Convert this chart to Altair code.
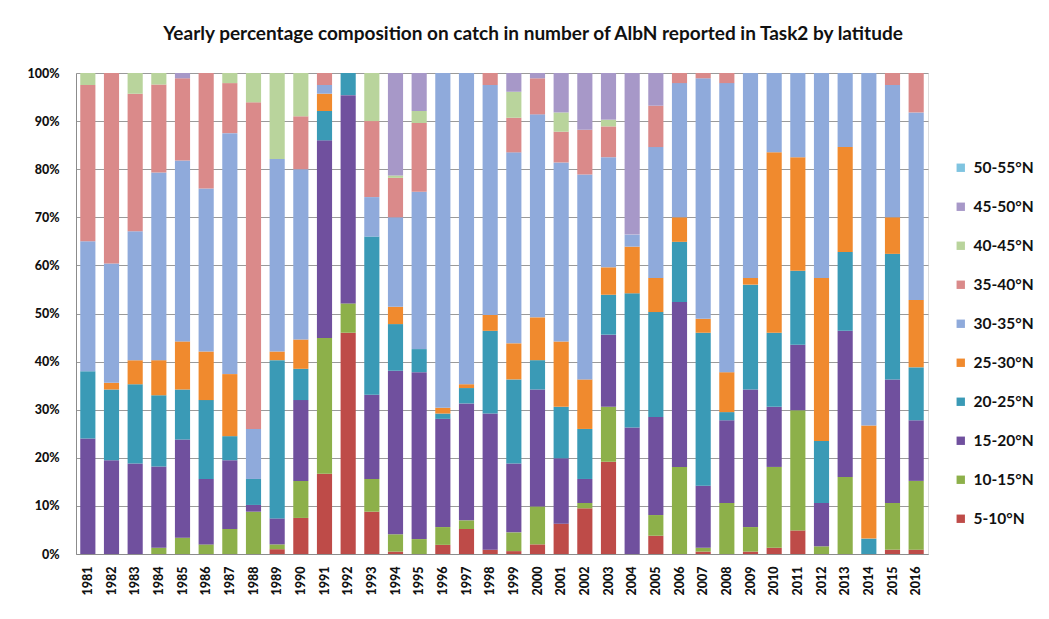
import altair as alt
import pandas as pd

years = [str(y) for y in range(1981, 2017)]

series_names = ["5-10°N", "10-15°N", "15-20°N", "20-25°N", "25-30°N",
                "30-35°N", "35-40°N", "40-45°N", "45-50°N", "50-55°N"]

lat_05_10 = [0, 0, 0, 0, 0, 0, 0, 0, 1.0, 7.5, 16.7, 46.0, 8.8, 0.5, 0, 1.9, 5.2, 0.9,
             0.6, 2.0, 6.3, 9.5, 19.2, 0, 3.8, 0, 0.5, 0, 0.5, 1.3, 4.9, 0, 0, 0, 0.9, 0.9]
lat_10_15 = [0, 0, 0, 1.3, 3.4, 2.0, 5.2, 8.8, 1.0, 7.7, 28.2, 6.1, 6.8, 3.6, 3.1, 3.7, 1.8, 0,
             3.9, 7.9, 0, 1.1, 11.4, 0, 4.3, 18.1, 0.8, 10.6, 5.1, 16.8, 25.0, 1.6, 16.0, 0, 9.7, 14.3]
lat_15_20 = [24.0, 19.5, 18.8, 16.9, 20.4, 13.6, 14.3, 1.4, 5.4, 16.8, 41.1, 43.3, 17.5, 34.0, 34.7, 22.5, 24.3, 28.3,
             14.3, 24.3, 13.6, 5.0, 15.0, 26.3, 20.4, 34.3, 12.9, 17.2, 28.6, 12.5, 13.6, 9.0, 30.4, 0, 25.7, 12.6]
lat_20_25 = [14.0, 14.7, 16.5, 14.8, 10.4, 16.4, 5.0, 5.4, 32.9, 6.5, 6.1, 4.6, 32.9, 9.7, 4.8, 1.1, 3.2, 17.2,
             17.5, 6.1, 10.7, 10.4, 8.3, 27.9, 21.8, 12.5, 31.8, 1.7, 21.8, 15.4, 15.4, 12.9, 16.4, 3.2, 26.1, 11.0]
lat_25_30 = [0, 1.4, 5.0, 7.3, 10.0, 10.1, 12.9, 0, 1.8, 6.1, 3.6, 0, 0, 3.6, 0, 1.2, 0.8, 3.3,
             7.5, 8.9, 13.6, 10.3, 5.7, 9.7, 7.1, 5.1, 2.9, 8.3, 1.4, 37.5, 23.6, 33.9, 21.8, 23.5, 7.6, 14.0]
lat_30_35 = [27.0, 24.8, 26.8, 39.0, 37.6, 33.9, 50.1, 10.4, 40.0, 35.4, 1.8, 0, 8.2, 18.6, 32.7, 69.6, 64.7, 47.8,
             39.7, 42.2, 37.2, 42.6, 22.9, 2.5, 27.2, 27.9, 50.0, 60.1, 42.6, 16.5, 17.5, 42.6, 15.4, 73.3, 27.5, 39.0]
lat_35_40 = [32.5, 39.6, 28.6, 18.3, 17.1, 24.0, 10.4, 67.9, 0, 11.0, 2.5, 0, 15.8, 8.2, 14.3, 0, 0, 2.5,
             7.2, 7.5, 6.4, 9.3, 6.4, 0, 8.6, 2.1, 1.1, 2.1, 0, 0, 0, 0, 0, 0, 2.5, 8.2]
lat_40_45 = [2.5, 0, 4.3, 2.4, 0, 0, 2.1, 6.1, 17.9, 9.0, 0, 0, 10.0, 0.5, 2.5, 0, 0, 0,
             5.4, 0, 4.0, 0, 1.4, 0, 0, 0, 0, 0, 0, 0, 0, 0, 0, 0, 0, 0]
lat_45_50 = [0, 0, 0, 0, 1.1, 0, 0, 0, 0, 0, 0, 0, 0, 21.3, 7.9, 0, 0, 0,
             3.9, 1.1, 8.2, 11.8, 9.7, 33.6, 6.8, 0, 0, 0, 0, 0, 0, 0, 0, 0, 0, 0]
lat_50_55 = [0] * 36

series_values = [lat_05_10, lat_10_15, lat_15_20, lat_20_25, lat_25_30,
                 lat_30_35, lat_35_40, lat_40_45, lat_45_50, lat_50_55]

series_colors = ["#BE4B48", "#8DB04A", "#70509E", "#3A9AB6", "#F08A2E",
                 "#8FAADB", "#DA8A8A", "#B9D49C", "#A798C8", "#7FC4E0"]

rows = []
for idx, (name, vals) in enumerate(zip(series_names, series_values)):
    for yr, v in zip(years, vals):
        rows.append({"year": yr, "lat": name, "value": v, "idx": idx})
df = pd.DataFrame(rows)

font = "Lato"

chart = alt.Chart(df).mark_bar().encode(
    x=alt.X("year:N", sort=years, title=None,
            scale=alt.Scale(paddingInner=0.36, paddingOuter=0.18),
            axis=alt.Axis(labelAngle=270, labelFont=font, labelFontSize=12.5,
                          labelFontWeight=900, labelColor="#111111",
                          ticks=False, domainColor="#8c8c8c", labelPadding=12)),
    y=alt.Y("value:Q", stack="normalize", title=None,
            scale=alt.Scale(domain=[0, 1], nice=False),
            axis=alt.Axis(format=".0%", values=[i / 10 for i in range(11)],
                          labelFont=font, labelFontSize=12.5, labelFontWeight=900,
                          labelColor="#111111", ticks=False, labelPadding=17,
                          grid=True, gridColor="#9a9a9a", domainColor="#8c8c8c")),
    color=alt.Color("lat:N",
                    scale=alt.Scale(domain=series_names[::-1], range=series_colors[::-1]),
                    legend=alt.Legend(title=None, orient="none", legendX=877, legendY=87,
                                      symbolType="square", symbolSize=70,
                                      symbolStrokeWidth=0,
                                      labelFont=font, labelFontSize=15.5,
                                      labelFontWeight="bold", labelColor="#111111",
                                      rowPadding=22, labelOffset=5)),
    order=alt.Order("idx:Q", sort="ascending"),
).properties(
    width=852,
    height=481,
    title=alt.TitleParams(
        "Yearly percentage composition on catch in number of AlbN reported in Task2 by latitude",
        font=font, fontSize=19, fontWeight="bold", color="#111111",
        anchor="middle", dx=31, offset=23),
    autosize=alt.AutoSizeParams(type="none"),
    padding={"left": 68, "top": 65, "right": 110, "bottom": 60},
).configure_view(stroke=None).configure(background="white")

chart.save("out.html", embed_options={"renderer": "svg", "actions": False})
